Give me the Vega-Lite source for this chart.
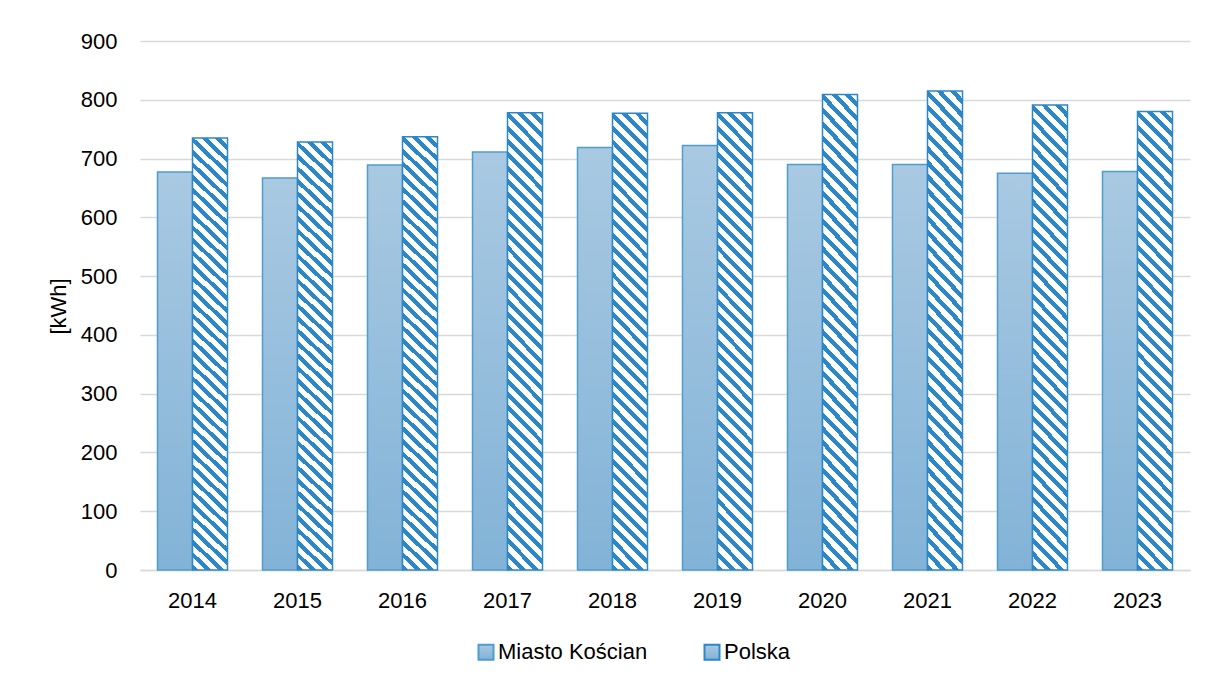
{
  "$schema": "https://vega.github.io/schema/vega-lite/v6.json",
  "width": 1050,
  "height": 529,
  "autosize": {"type": "none"},
  "padding": {"left": 140, "top": 41, "right": 19, "bottom": 114},
  "background": "white",
  "config": {
    "font": "Liberation Sans",
    "view": {"stroke": null},
    "axis": {"labelFont": "Liberation Sans", "titleFont": "Liberation Sans", "labelColor": "#000000", "titleColor": "#000000"},
    "legend": {"labelFont": "Liberation Sans", "labelColor": "#000000"}
  },
  "data": {
    "values": [
      {"year": "2014", "series": "Miasto Kościan", "value": 677},
      {"year": "2015", "series": "Miasto Kościan", "value": 667},
      {"year": "2016", "series": "Miasto Kościan", "value": 689},
      {"year": "2017", "series": "Miasto Kościan", "value": 711},
      {"year": "2018", "series": "Miasto Kościan", "value": 719},
      {"year": "2019", "series": "Miasto Kościan", "value": 722},
      {"year": "2020", "series": "Miasto Kościan", "value": 690},
      {"year": "2021", "series": "Miasto Kościan", "value": 690},
      {"year": "2022", "series": "Miasto Kościan", "value": 675},
      {"year": "2023", "series": "Miasto Kościan", "value": 678},
      {"year": "2014", "series": "Polska", "value": 735},
      {"year": "2015", "series": "Polska", "value": 728},
      {"year": "2016", "series": "Polska", "value": 737},
      {"year": "2017", "series": "Polska", "value": 778},
      {"year": "2018", "series": "Polska", "value": 777},
      {"year": "2019", "series": "Polska", "value": 778},
      {"year": "2020", "series": "Polska", "value": 809},
      {"year": "2021", "series": "Polska", "value": 815},
      {"year": "2022", "series": "Polska", "value": 791},
      {"year": "2023", "series": "Polska", "value": 780}
    ]
  },
  "encoding": {
    "x": {
      "field": "year", "type": "nominal",
      "scale": {"paddingInner": 0.3333, "paddingOuter": 0.1667},
      "axis": {"title": null, "labelAngle": 0, "labelFontSize": 22, "ticks": false, "tickSize": 0, "labelPadding": 20, "domainColor": "#d9d9d9", "domainWidth": 1.5, "grid": false}
    },
    "xOffset": {
      "field": "series", "type": "nominal",
      "scale": {"domain": ["Miasto Kościan", "Polska"], "paddingInner": 0, "paddingOuter": 0}
    },
    "y": {
      "field": "value", "type": "quantitative",
      "scale": {"domain": [0, 900], "nice": false},
      "axis": {"title": "[kWh]", "titleFontSize": 22, "titleFontWeight": "normal", "titleX": -82, "titleY": 265, "titleAngle": -90, "titleBaseline": "middle", "titleAlign": "center",
               "values": [0, 100, 200, 300, 400, 500, 600, 700, 800, 900], "labelFontSize": 22, "ticks": false, "tickSize": 0, "labelPadding": 23, "domain": false,
               "gridColor": "#d9d9d9", "gridWidth": 1.5}
    },
    "stroke": {
      "field": "series", "type": "nominal",
      "scale": {"domain": ["Miasto Kościan", "Polska"], "range": ["#4d9dd0", "#2b87c8"]},
      "legend": {
        "title": null, "orient": "none", "legendX": 335, "legendY": 600, "direction": "horizontal",
        "symbolType": "square", "symbolSize": 225, "symbolStrokeWidth": 2, "labelFontSize": 22, "labelOffset": 1, "columnPadding": 52, "padding": 0
      }
    }
  },
  "layer": [
    {
      "transform": [{"filter": "datum.series === 'Miasto Kościan'"}],
      "mark": {"type": "bar", "strokeWidth": 1.5, "fill": {"gradient": "linear", "x1": 0, "y1": 0, "x2": 0, "y2": 1, "stops": [{"offset": 0, "color": "#a9c9e2"}, {"offset": 1, "color": "#82b3d7"}]}},
      "encoding": {}
    },
    {
      "transform": [{"filter": "datum.series === 'Polska'"}],
      "mark": {"type": "bar", "strokeWidth": 1.5, "fill": {"gradient": "linear", "x1": 0, "y1": 1, "x2": 0.0827, "y2": -0.0709, "stops": [
        {"offset": 0, "color": "#2b87c8"}, {"offset": 0.01216, "color": "#2b87c8"}, {"offset": 0.01216, "color": "#ffffff"}, {"offset": 0.02703, "color": "#ffffff"},
        {"offset": 0.02703, "color": "#2b87c8"}, {"offset": 0.03919, "color": "#2b87c8"}, {"offset": 0.03919, "color": "#ffffff"}, {"offset": 0.05405, "color": "#ffffff"},
        {"offset": 0.05405, "color": "#2b87c8"}, {"offset": 0.06622, "color": "#2b87c8"}, {"offset": 0.06622, "color": "#ffffff"}, {"offset": 0.08108, "color": "#ffffff"},
        {"offset": 0.08108, "color": "#2b87c8"}, {"offset": 0.09324, "color": "#2b87c8"}, {"offset": 0.09324, "color": "#ffffff"}, {"offset": 0.10811, "color": "#ffffff"},
        {"offset": 0.10811, "color": "#2b87c8"}, {"offset": 0.12027, "color": "#2b87c8"}, {"offset": 0.12027, "color": "#ffffff"}, {"offset": 0.13514, "color": "#ffffff"},
        {"offset": 0.13514, "color": "#2b87c8"}, {"offset": 0.1473, "color": "#2b87c8"}, {"offset": 0.1473, "color": "#ffffff"}, {"offset": 0.16216, "color": "#ffffff"},
        {"offset": 0.16216, "color": "#2b87c8"}, {"offset": 0.17432, "color": "#2b87c8"}, {"offset": 0.17432, "color": "#ffffff"}, {"offset": 0.18919, "color": "#ffffff"},
        {"offset": 0.18919, "color": "#2b87c8"}, {"offset": 0.20135, "color": "#2b87c8"}, {"offset": 0.20135, "color": "#ffffff"}, {"offset": 0.21622, "color": "#ffffff"},
        {"offset": 0.21622, "color": "#2b87c8"}, {"offset": 0.22838, "color": "#2b87c8"}, {"offset": 0.22838, "color": "#ffffff"}, {"offset": 0.24324, "color": "#ffffff"},
        {"offset": 0.24324, "color": "#2b87c8"}, {"offset": 0.2554, "color": "#2b87c8"}, {"offset": 0.2554, "color": "#ffffff"}, {"offset": 0.27027, "color": "#ffffff"},
        {"offset": 0.27027, "color": "#2b87c8"}, {"offset": 0.28243, "color": "#2b87c8"}, {"offset": 0.28243, "color": "#ffffff"}, {"offset": 0.2973, "color": "#ffffff"},
        {"offset": 0.2973, "color": "#2b87c8"}, {"offset": 0.30946, "color": "#2b87c8"}, {"offset": 0.30946, "color": "#ffffff"}, {"offset": 0.32432, "color": "#ffffff"},
        {"offset": 0.32432, "color": "#2b87c8"}, {"offset": 0.33649, "color": "#2b87c8"}, {"offset": 0.33649, "color": "#ffffff"}, {"offset": 0.35135, "color": "#ffffff"},
        {"offset": 0.35135, "color": "#2b87c8"}, {"offset": 0.36351, "color": "#2b87c8"}, {"offset": 0.36351, "color": "#ffffff"}, {"offset": 0.37838, "color": "#ffffff"},
        {"offset": 0.37838, "color": "#2b87c8"}, {"offset": 0.39054, "color": "#2b87c8"}, {"offset": 0.39054, "color": "#ffffff"}, {"offset": 0.40541, "color": "#ffffff"},
        {"offset": 0.40541, "color": "#2b87c8"}, {"offset": 0.41757, "color": "#2b87c8"}, {"offset": 0.41757, "color": "#ffffff"}, {"offset": 0.43243, "color": "#ffffff"},
        {"offset": 0.43243, "color": "#2b87c8"}, {"offset": 0.44459, "color": "#2b87c8"}, {"offset": 0.44459, "color": "#ffffff"}, {"offset": 0.45946, "color": "#ffffff"},
        {"offset": 0.45946, "color": "#2b87c8"}, {"offset": 0.47162, "color": "#2b87c8"}, {"offset": 0.47162, "color": "#ffffff"}, {"offset": 0.48649, "color": "#ffffff"},
        {"offset": 0.48649, "color": "#2b87c8"}, {"offset": 0.49865, "color": "#2b87c8"}, {"offset": 0.49865, "color": "#ffffff"}, {"offset": 0.51351, "color": "#ffffff"},
        {"offset": 0.51351, "color": "#2b87c8"}, {"offset": 0.52568, "color": "#2b87c8"}, {"offset": 0.52568, "color": "#ffffff"}, {"offset": 0.54054, "color": "#ffffff"},
        {"offset": 0.54054, "color": "#2b87c8"}, {"offset": 0.5527, "color": "#2b87c8"}, {"offset": 0.5527, "color": "#ffffff"}, {"offset": 0.56757, "color": "#ffffff"},
        {"offset": 0.56757, "color": "#2b87c8"}, {"offset": 0.57973, "color": "#2b87c8"}, {"offset": 0.57973, "color": "#ffffff"}, {"offset": 0.59459, "color": "#ffffff"},
        {"offset": 0.59459, "color": "#2b87c8"}, {"offset": 0.60676, "color": "#2b87c8"}, {"offset": 0.60676, "color": "#ffffff"}, {"offset": 0.62162, "color": "#ffffff"},
        {"offset": 0.62162, "color": "#2b87c8"}, {"offset": 0.63378, "color": "#2b87c8"}, {"offset": 0.63378, "color": "#ffffff"}, {"offset": 0.64865, "color": "#ffffff"},
        {"offset": 0.64865, "color": "#2b87c8"}, {"offset": 0.66081, "color": "#2b87c8"}, {"offset": 0.66081, "color": "#ffffff"}, {"offset": 0.67568, "color": "#ffffff"},
        {"offset": 0.67568, "color": "#2b87c8"}, {"offset": 0.68784, "color": "#2b87c8"}, {"offset": 0.68784, "color": "#ffffff"}, {"offset": 0.7027, "color": "#ffffff"},
        {"offset": 0.7027, "color": "#2b87c8"}, {"offset": 0.71486, "color": "#2b87c8"}, {"offset": 0.71486, "color": "#ffffff"}, {"offset": 0.72973, "color": "#ffffff"},
        {"offset": 0.72973, "color": "#2b87c8"}, {"offset": 0.74189, "color": "#2b87c8"}, {"offset": 0.74189, "color": "#ffffff"}, {"offset": 0.75676, "color": "#ffffff"},
        {"offset": 0.75676, "color": "#2b87c8"}, {"offset": 0.76892, "color": "#2b87c8"}, {"offset": 0.76892, "color": "#ffffff"}, {"offset": 0.78378, "color": "#ffffff"},
        {"offset": 0.78378, "color": "#2b87c8"}, {"offset": 0.79595, "color": "#2b87c8"}, {"offset": 0.79595, "color": "#ffffff"}, {"offset": 0.81081, "color": "#ffffff"},
        {"offset": 0.81081, "color": "#2b87c8"}, {"offset": 0.82297, "color": "#2b87c8"}, {"offset": 0.82297, "color": "#ffffff"}, {"offset": 0.83784, "color": "#ffffff"},
        {"offset": 0.83784, "color": "#2b87c8"}, {"offset": 0.85, "color": "#2b87c8"}, {"offset": 0.85, "color": "#ffffff"}, {"offset": 0.86486, "color": "#ffffff"},
        {"offset": 0.86486, "color": "#2b87c8"}, {"offset": 0.87703, "color": "#2b87c8"}, {"offset": 0.87703, "color": "#ffffff"}, {"offset": 0.89189, "color": "#ffffff"},
        {"offset": 0.89189, "color": "#2b87c8"}, {"offset": 0.90405, "color": "#2b87c8"}, {"offset": 0.90405, "color": "#ffffff"}, {"offset": 0.91892, "color": "#ffffff"},
        {"offset": 0.91892, "color": "#2b87c8"}, {"offset": 0.93108, "color": "#2b87c8"}, {"offset": 0.93108, "color": "#ffffff"}, {"offset": 0.94595, "color": "#ffffff"},
        {"offset": 0.94595, "color": "#2b87c8"}, {"offset": 0.95811, "color": "#2b87c8"}, {"offset": 0.95811, "color": "#ffffff"}, {"offset": 0.97297, "color": "#ffffff"},
        {"offset": 0.97297, "color": "#2b87c8"}, {"offset": 0.98514, "color": "#2b87c8"}, {"offset": 0.98514, "color": "#ffffff"}, {"offset": 1, "color": "#ffffff"}
      ]}},
      "encoding": {}
    }
  ]
}
